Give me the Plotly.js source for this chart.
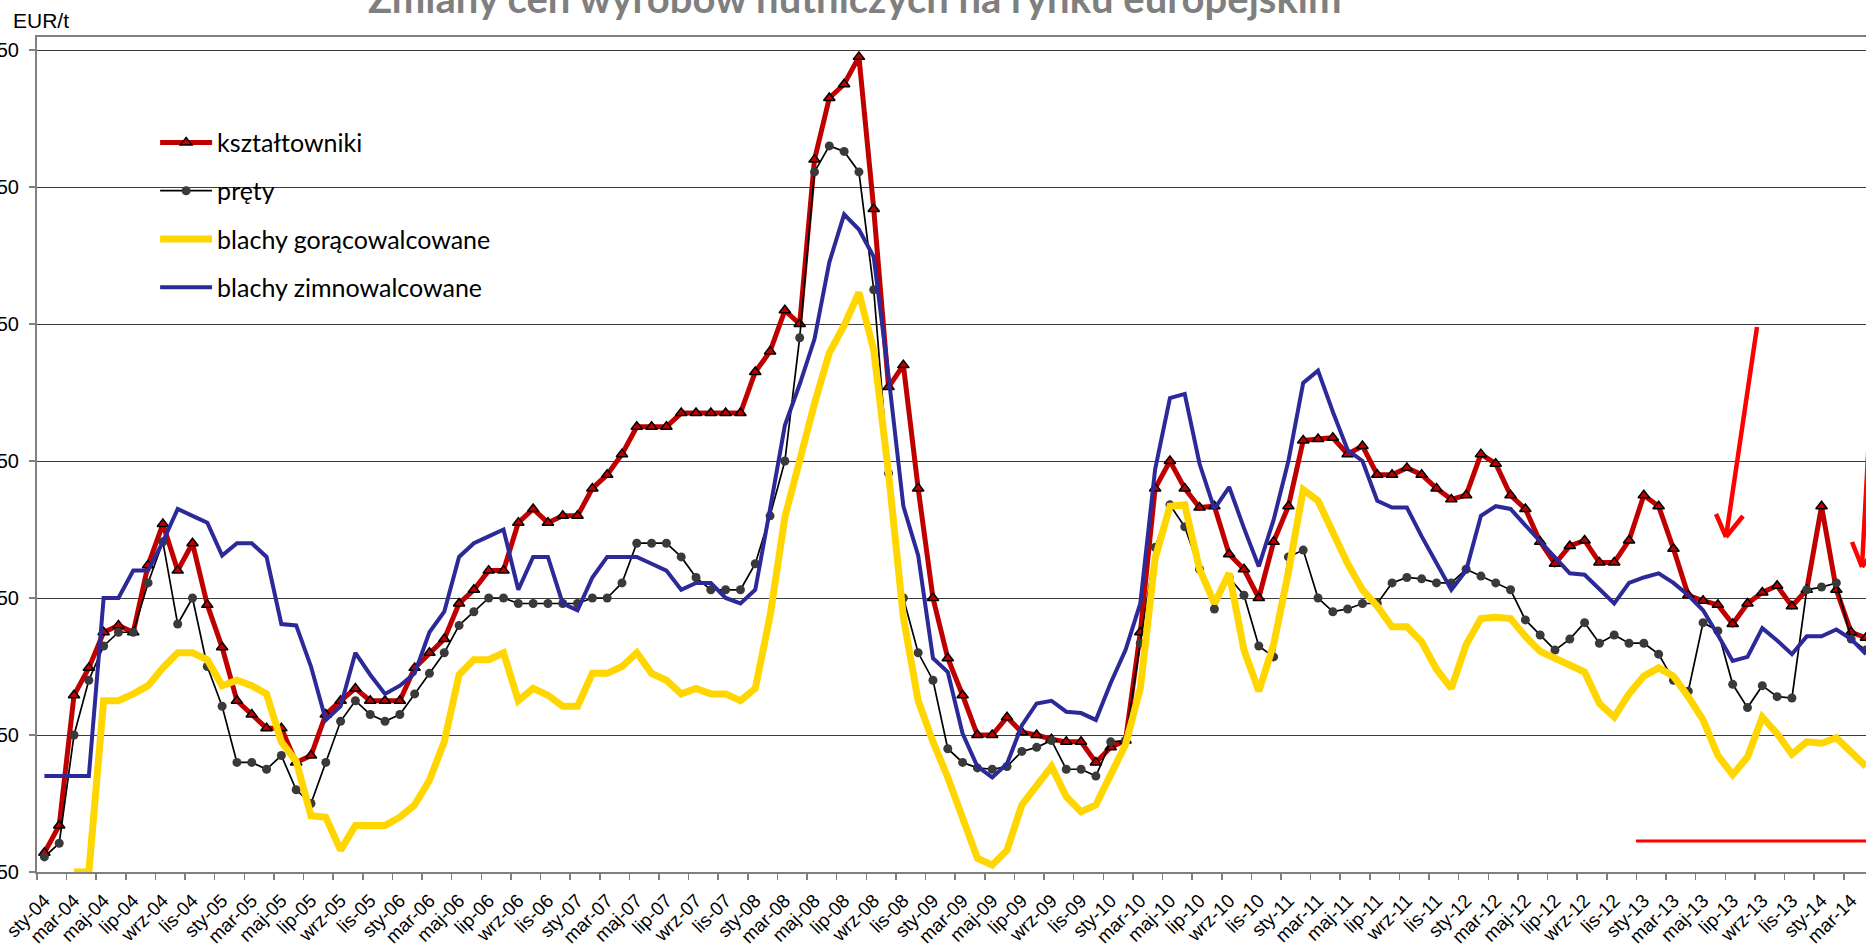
<!DOCTYPE html>
<html>
<head>
<meta charset="utf-8">
<script src="https://cdn.plot.ly/plotly-3.0.1.min.js"></script>
<style>
html, body { margin:0; padding:0; width:1866px; height:946px; overflow:hidden; background:#fff; }
#chart { position:absolute; left:-40px; top:0; width:1953px; height:946px; }
</style>
</head>
<body>
<div id="chart"></div>
<script>
// ---- data ----
const monthNames = ['sty','lut','mar','kwi','maj','cze','lip','sie','wrz','paź','lis','gru'];
const yearNames = ['04','05','06','07','08','09','10','11','12','13','14'];
const seriesNames = ['kształtowniki','pręty','blachy gorącowalcowane','blachy zimnowalcowane'];
const yTicks = [350,450,550,650,750,850,950];

const ksztaltowniki = [364,384,479,499,525,530,525,574,604,570,590,545,514,475,465,455,455,430,435,465,475,484,475,475,
  475,499,510,520,546,556,570,570,605,615,605,610,610,630,640,655,675,675,675,685,685,685,685,685,
  715,730,760,750,870,915,925,945,834,704,720,630,550,506,479,450,450,463,452,450,447,445,445,430,
  441,446,525,630,650,630,616,617,582,571,550,591,617,665,666,667,655,661,640,640,645,640,630,622,
  625,655,648,625,615,591,575,588,592,576,576,592,625,617,586,552,548,545,531,546,554,559,544,556,
  617,556,525,521];
const prety = [361,371,450,490,515,525,525,561,591,531,550,500,471,430,430,425,435,410,400,430,460,475,465,460,
  465,480,495,510,530,540,550,550,546,546,546,546,546,550,550,561,590,590,590,580,565,556,556,556,
  575,610,650,740,861,880,876,861,775,641,550,510,490,440,430,426,425,427,438,441,446,425,425,420,
  445,446,517,587,618,602,571,542,565,552,515,507,580,585,550,540,542,546,546,561,565,564,561,561,
  571,566,561,556,534,523,512,520,532,517,523,517,517,509,490,482,532,526,487,470,486,478,477,556,
  558,561,520,512];
const goracowalcowane = [null,null,350,350,475,475,480,486,499,510,510,505,486,490,486,480,445,431,391,390,366,384,384,384,
  390,399,417,445,494,505,505,510,475,484,479,471,471,495,495,500,510,495,490,480,484,480,480,475,
  484,537,609,652,692,729,749,773,731,641,536,475,445,419,390,360,355,366,399,413,427,405,394,399,
  421,443,484,579,617,618,571,546,568,512,482,516,569,629,621,599,575,556,544,529,529,518,498,484,
  516,535,536,535,522,511,506,501,496,473,463,480,493,499,493,478,461,435,421,434,463,451,436,445,
  444,448,437,427];
const zimnowalcowane = [420,420,420,420,550,550,570,570,591,615,610,605,581,590,590,580,531,530,500,461,471,510,494,480,
  486,495,525,540,580,590,595,600,556,580,580,546,541,565,580,580,580,575,570,556,561,561,550,546,
  556,615,676,706,739,795,830,819,799,712,617,581,506,496,451,427,419,429,457,473,475,467,466,461,
  488,512,546,644,696,699,648,615,631,601,573,607,650,707,716,686,658,650,621,616,616,595,575,556,
  570,610,617,615,603,591,580,568,567,556,546,561,565,568,561,552,541,523,504,507,528,519,509,522,
  522,527,520,509];

const categories = [];
yearNames.forEach(y => monthNames.forEach(m => categories.push(m + '-' + y)));
categories.length = ksztaltowniki.length;
const tickLabels = categories.filter((c, i) => i % 2 === 0);

// ---- geometry helpers for decorations (page px -> paper) ----
const PL = 37, PT = 37, PW = 1866, PH = 835;
const px = x => (x - PL) / PW;
const py = y => (PT + PH - y) / PH;

const RED = '#FF0000';
function seg(x0,y0,x1,y1,w,c){
  return {type:'line', xref:'paper', yref:'paper', x0:px(x0), y0:py(y0), x1:px(x1), y1:py(y1),
          line:{color:c||RED, width:w||4.5}, layer:'above'};
}

const legFont = {family:'Lato, "Noto Sans", sans-serif', size:25, color:'#000'};
const xFont = {family:'"Liberation Sans", Arial, sans-serif', size:19, color:'#000'};
const yFont = {family:'"Liberation Sans", Arial, sans-serif', size:20, color:'#000'};

const traces = [
  {x:categories, y:ksztaltowniki, name:seriesNames[0], type:'scatter', mode:'lines+markers', legendgroup:'a',
   line:{color:'#C00000', width:5},
   marker:{symbol:'triangle-up', size:10, color:'#C00000', line:{color:'#000', width:1.5}}},
  {x:categories, y:prety, name:seriesNames[1], type:'scatter', mode:'lines+markers', legendgroup:'b',
   line:{color:'#000', width:1.7},
   marker:{symbol:'circle', size:9, color:'#3a3a3a'}},
  {x:categories, y:goracowalcowane, name:seriesNames[2], type:'scatter', mode:'lines', legendgroup:'c',
   line:{color:'#FFD600', width:7}},
  {x:categories, y:zimnowalcowane, name:seriesNames[3], type:'scatter', mode:'lines', legendgroup:'d',
   line:{color:'#2B2A98', width:4}},
  {x:[], y:[], xaxis:'x2', yaxis:'y', showlegend:false, hoverinfo:'skip', type:'scatter', mode:'lines'}
];

const layout = {
  width:1953, height:946,
  margin:{l:77, r:10, t:37, b:74, pad:0},
  paper_bgcolor:'#fff', plot_bgcolor:'#fff',
  showlegend:true,
  legend:{x:0.0633, y:0.901, xanchor:'left', yanchor:'top', font:legFont, bgcolor:'rgba(0,0,0,0)',
          traceorder:'grouped', tracegroupgap:12.8, itemwidth:52},
  xaxis:{type:'category', range:[-0.5,125.5], tickmode:'array', tickvals:tickLabels, ticktext:tickLabels,
         tickangle:-45, ticks:'', ticklabelstandoff:8, tickfont:xFont,
         showline:true, linecolor:'#808080', linewidth:2, mirror:true, showgrid:false, zeroline:false},
  xaxis2:{overlaying:'x', anchor:'y', side:'bottom', type:'linear', range:[-0.5,125.5],
          tickmode:'linear', tick0:-0.5, dtick:2, ticks:'outside', ticklen:7, tickwidth:1.5, tickcolor:'#808080',
          showticklabels:false, showgrid:false, zeroline:false, showline:false},
  yaxis:{range:[350,959.5], tickmode:'array', tickvals:yTicks, ticks:'outside', ticklen:6, tickwidth:1.5,
         tickcolor:'#808080', showline:true, linecolor:'#808080', linewidth:2,
         showgrid:true, gridcolor:'#3c3c3c', gridwidth:1, zeroline:false, ticklabelstandoff:6,
         tickfont:yFont},
  annotations:[
    {text:'EUR/t', xref:'paper', yref:'paper', x:px(11), y:py(21), xanchor:'left', yanchor:'middle',
     showarrow:false, font:{family:'"Liberation Sans", Arial, sans-serif', size:21, color:'#000'}},
    {text:'<b>Zmiany cen wyrobów hutniczych na rynku europejskim</b>', xref:'paper', yref:'paper',
     x:px(854), y:py(-2), xanchor:'center', yanchor:'middle', showarrow:false,
     font:{family:'Lato, "Noto Sans", sans-serif', size:40, color:'#7F7F7F'}}
  ],
  shapes:[
    seg(1757,327,1726,537), seg(1716,514,1726,537), seg(1743,516,1726,537),
    seg(1871,400,1862,567), seg(1852,542,1862,567), seg(1878,545,1862,567),
    seg(1636,841,1930,841,3)
  ]
};

Plotly.newPlot('chart', traces, layout, {displayModeBar:false, staticPlot:true});
</script>
</body>
</html>
